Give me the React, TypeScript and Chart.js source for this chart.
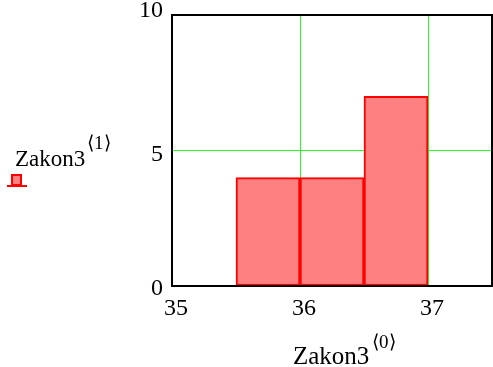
import React, { useEffect, useRef } from "react";
import { Chart, registerables } from "chart.js";

Chart.register(...registerables);

const binCenters = [35.75, 36.25, 36.75];
const counts = [4, 4, 7];
const xTicks = [35, 36, 37];
const yTicks = [0, 5, 10];
const xGridValues = [36, 37];
const yGridValues = [5];
const xTitle = "Zakon3";
const xTitleSup = "\u27E80\u27E9";
const yTitle = "Zakon3";
const yTitleSup = "\u27E81\u27E9";

const SERIF = "'Liberation Serif', 'Times New Roman', serif";
const GREEN = "rgb(40,250,40)";
const FILL = "rgb(255,128,128)";
const RED = "rgb(255,0,0)";

const yLabelShift: Record<number, number> = { 10: -4, 5: 4, 0: 3 };

const decorPlugin = {
  id: "decor",
  beforeDraw(chart: any) {
    const ys = chart.scales.y;
    const items = ys.getLabelItems();
    if (!ys._shifted) {
      items.forEach((it: any, i: number) => {
        const v = ys.ticks[i] ? ys.ticks[i].value : null;
        if (v !== null && yLabelShift[v] !== undefined && it.options && it.options.translation) {
          it.options.translation[1] += yLabelShift[v];
        }
      });
      ys._shifted = true;
    }
  },
  afterDatasetsDraw(chart: any) {
    const { ctx, chartArea } = chart;
    ctx.save();
    ctx.strokeStyle = "#000";
    ctx.lineWidth = 2;
    ctx.strokeRect(chartArea.left, chartArea.top, chartArea.right - chartArea.left, chartArea.bottom - chartArea.top);
    ctx.restore();
  },
  afterDraw(chart: any) {
    const { ctx } = chart;
    ctx.save();
    ctx.fillStyle = "#000";
    ctx.textBaseline = "alphabetic";
    ctx.textAlign = "left";
    // x title
    ctx.font = `25px ${SERIF}`;
    ctx.fillText(xTitle, 293, 364);
    ctx.font = `19px ${SERIF}`;
    ctx.fillText(xTitleSup, 372, 348);
    // y title
    ctx.font = `23px ${SERIF}`;
    ctx.fillText(yTitle, 15, 166);
    ctx.font = `19px ${SERIF}`;
    ctx.fillText(yTitleSup, 87, 149);
    // legend symbol
    ctx.fillStyle = FILL;
    ctx.fillRect(12, 175, 9, 10);
    ctx.strokeStyle = RED;
    ctx.lineWidth = 2;
    ctx.strokeRect(12, 175, 9, 10);
    ctx.beginPath();
    ctx.moveTo(7, 186);
    ctx.lineTo(27, 186);
    ctx.stroke();
    ctx.restore();
  },
};

export default function App() {
  const ref = useRef<HTMLCanvasElement>(null);
  useEffect(() => {
    document.body.style.margin = "0";
    const chart = new Chart(ref.current!, {
      type: "bar",
      data: {
        datasets: [
          {
            data: binCenters.map((x, i) => ({ x, y: counts[i] })),
            backgroundColor: FILL,
            borderColor: RED,
            borderWidth: 2,
            borderSkipped: false,
            barPercentage: 1,
            categoryPercentage: 1,
          },
        ],
      },
      options: {
        animation: false,
        responsive: false,
        maintainAspectRatio: false,
        layout: { padding: { top: 15, right: 1, left: 0, bottom: 0 } },
        plugins: { legend: { display: false }, tooltip: { enabled: false } },
        scales: {
          x: {
            type: "linear",
            offset: false,
            min: 35,
            max: 37.5,
            afterBuildTicks: (s: any) => {
              s.ticks = xTicks.map((v) => ({ value: v }));
            },
            afterFit: (s: any) => {
              s.height = 81;
              s.paddingLeft = 0;
              s.paddingRight = 0;
            },
            grid: {
              offset: false,
              drawTicks: false,
              lineWidth: 1,
              color: (c: any) => (c.tick && xGridValues.includes(c.tick.value) ? GREEN : "rgba(0,0,0,0)"),
            },
            border: { display: false },
            ticks: {
              padding: 8,
              labelOffset: 4,
              maxRotation: 0,
              autoSkip: false,
              color: "#000",
              font: { family: SERIF, size: 24 },
            },
          },
          y: {
            type: "linear",
            min: 0,
            max: 10,
            afterBuildTicks: (s: any) => {
              s.ticks = yTicks.map((v) => ({ value: v }));
            },
            afterFit: (s: any) => {
              s.width = 172;
              s.paddingTop = 0;
              s.paddingBottom = 0;
            },
            grid: {
              drawTicks: false,
              lineWidth: 1,
              color: (c: any) => (c.tick && yGridValues.includes(c.tick.value) ? GREEN : "rgba(0,0,0,0)"),
            },
            border: { display: false },
            ticks: {
              padding: 9,
              color: "#000",
              font: { family: SERIF, size: 24 },
            },
          },
        },
      },
      plugins: [decorPlugin],
    } as any);
    return () => chart.destroy();
  }, []);
  return (
    <div style={{ position: "fixed", left: 0, top: 0, width: 493, height: 367, background: "#fff" }}>
      <canvas ref={ref} width={493} height={367} style={{ width: 493, height: 367, display: "block" }} />
    </div>
  );
}
